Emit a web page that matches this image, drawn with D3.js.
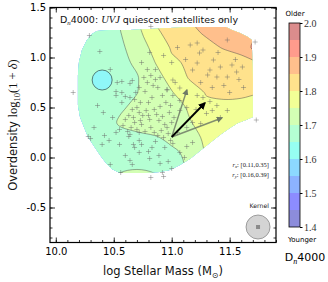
<!DOCTYPE html>
<html>
<head>
<meta charset="utf-8">
<script src="https://cdn.jsdelivr.net/npm/d3@7"></script>
<style>
body { margin: 0; background: #fff; }
svg { display: block; font-family: "DejaVu Sans", sans-serif; }
</style>
</head>
<body>
<script>
// Dn4000 map: rows from top (od 1.4) to bottom (od -0.25)
var gridMass = [10.1, 10.25, 10.4, 10.55, 10.7, 10.85, 11.0, 11.15, 11.3, 11.45, 11.6, 11.75, 11.9];
var gridOd = [1.4, 1.25, 1.1, 0.95, 0.8, 0.65, 0.5, 0.35, 0.2, 0.05, -0.1, -0.25];
var dn4000Grid = [
  [1.66, 1.67, 1.685, 1.705, 1.742, 1.805, 1.829, 1.851, 1.86, 1.87, 1.875, 1.88, 1.88],
  [1.66, 1.67, 1.683, 1.697, 1.734, 1.789, 1.818, 1.839, 1.856, 1.865, 1.87, 1.9, 1.91],
  [1.66, 1.668, 1.68, 1.69, 1.721, 1.764, 1.805, 1.821, 1.838, 1.853, 1.862, 1.93, 1.94],
  [1.66, 1.666, 1.677, 1.688, 1.707, 1.748, 1.792, 1.807, 1.817, 1.827, 1.838, 1.848, 1.855],
  [1.66, 1.665, 1.675, 1.685, 1.697, 1.729, 1.768, 1.803, 1.812, 1.82, 1.825, 1.83, 1.83],
  [1.66, 1.665, 1.675, 1.685, 1.699, 1.722, 1.747, 1.78, 1.803, 1.806, 1.805, 1.801, 1.80],
  [1.66, 1.668, 1.68, 1.695, 1.708, 1.723, 1.738, 1.753, 1.79, 1.793, 1.792, 1.79, 1.785],
  [1.665, 1.675, 1.68, 1.704, 1.713, 1.725, 1.737, 1.748, 1.76, 1.77, 1.775, 1.775, 1.775],
  [1.665, 1.67, 1.68, 1.688, 1.692, 1.696, 1.709, 1.738, 1.756, 1.765, 1.77, 1.77, 1.77],
  [1.665, 1.67, 1.675, 1.68, 1.685, 1.688, 1.693, 1.708, 1.755, 1.765, 1.77, 1.77, 1.77],
  [1.665, 1.67, 1.68, 1.694, 1.697, 1.694, 1.692, 1.703, 1.74, 1.76, 1.77, 1.77, 1.77],
  [1.665, 1.675, 1.69, 1.71, 1.72, 1.71, 1.695, 1.705, 1.73, 1.75, 1.76, 1.77, 1.77]
];

// outline of the region where the map is defined
var maskMass = [10.355, 10.467, 10.64, 10.812, 10.984, 11.2, 11.467, 11.519, 11.588, 11.657, 11.691, 11.7, 11.7,
  11.64, 11.571, 11.502, 11.416, 11.329, 11.243, 11.157, 11.071, 10.984, 10.898, 10.769, 10.553, 10.484, 10.433,
  10.381, 10.329, 10.278, 10.243, 10.209, 10.191, 10.191, 10.191, 10.2, 10.226, 10.269, 10.312];
var maskOd = [1.265, 1.275, 1.275, 1.285, 1.295, 1.305, 1.305, 1.275, 1.245, 1.205, 1.175, 0.775, 0.405,
  0.375, 0.345, 0.295, 0.225, 0.145, 0.065, -0.015, -0.075, -0.125, -0.145, -0.155, -0.155, -0.115, -0.055,
  0.025, 0.115, 0.205, 0.305, 0.405, 0.525, 0.675, 0.825, 0.955, 1.075, 1.175, 1.235];

// galaxies
var galMass = [10.29, 10.38, 10.15, 10.53, 10.57, 10.52, 10.52, 10.57, 10.64, 10.66, 10.36, 10.41, 10.49, 10.57, 10.60,
  10.73, 10.77, 10.79, 10.81, 10.74, 10.86, 10.81, 10.90, 10.68, 10.28, 10.63, 10.47, 10.33, 10.42,
  10.64, 10.68, 10.70, 10.72, 10.75, 10.78, 10.80, 10.83, 10.85, 10.87, 10.89, 10.92, 10.94, 10.96, 10.98, 10.95,
  10.92, 10.88, 10.84, 10.79, 10.76, 10.72, 10.69, 10.66, 10.63, 10.60, 10.65, 10.70, 10.74, 10.77, 10.82, 10.85,
  10.88, 10.91, 10.93, 10.97, 11.00, 11.02, 10.99, 11.01, 10.96, 10.90, 10.86, 10.82, 10.80, 10.73, 10.67, 10.58,
  10.62, 10.55,
  10.30, 10.40, 10.46, 10.52, 10.55, 10.67, 10.72, 10.74, 10.68, 10.60, 10.64, 10.66, 10.72, 10.80, 10.83, 10.86,
  10.47, 10.56, 10.82, 10.93, 10.72, 10.64,
  10.94, 11.01, 11.07, 11.13, 11.11, 10.92, 11.00, 11.18, 10.99, 11.05, 10.89, 10.90, 10.81, 10.97,
  11.07, 11.13, 11.03, 11.07, 11.18, 11.25, 11.30, 11.21, 11.13, 11.35, 11.42, 11.33, 11.39, 11.27, 11.22, 11.48,
  11.22, 11.24, 11.16, 11.27, 11.36, 11.33, 11.31, 11.18, 11.48, 11.52, 11.56, 11.61, 11.48, 11.22, 11.39, 11.42,
  11.01, 11.07, 10.96, 11.44, 11.72, 11.73, 11.05, 11.12, 11.00, 10.93, 11.40, 11.55, 11.45, 11.58, 11.62, 11.50,
  11.35, 11.25, 10.82];
var galOd = [1.22, 1.06, 0.65, 0.75, 0.76, 0.66, 0.62, 0.65, 0.74, 0.77, 0.52, 0.45, 0.40, 0.55, 0.61,
  0.55, 0.66, 0.88, 1.05, 0.95, 0.78, 0.38, 0.51, 0.35, 0.21, 0.21, 0.88, 0.30, 0.22,
  0.60, 0.58, 0.50, 0.45, 0.42, 0.47, 0.55, 0.60, 0.48, 0.43, 0.37, 0.41, 0.33, 0.30, 0.45, 0.55,
  0.62, 0.70, 0.72, 0.75, 0.80, 0.70, 0.65, 0.48, 0.42, 0.38, 0.30, 0.28, 0.33, 0.26, 0.30, 0.25,
  0.22, 0.27, 0.20, 0.24, 0.35, 0.40, 0.52, 0.62, 0.68, 0.80, 0.88, 0.82, 0.42, 0.37, 0.40, 0.32,
  0.26, 0.28,
  0.19, 0.13, 0.17, 0.25, 0.13, 0.13, 0.17, 0.13, 0.10, 0.02, -0.03, -0.07, 0.05, 0.06, 0.10, 0.16,
  -0.07, -0.15, -0.20, -0.19, 0.25, 0.23,
  0.10, 0.14, 0.05, 0.11, 0.00, -0.15, -0.11, 0.15, 0.17, 0.25, 0.02, -0.06, -0.01, -0.04,
  0.57, 0.50, 0.75, 0.47, 0.35, 0.34, 0.44, 0.48, 0.30, 0.47, 0.40, 0.56, 0.52, 0.60, 0.62, 0.47,
  1.145, 1.045, 1.125, 1.075, 0.975, 0.875, 0.825, 0.875, 0.805, 0.925, 0.855, 0.905, 1.175, 0.945, 0.805, 0.905,
  0.775, 0.695, 0.675, 1.375, 1.155, 0.375, 1.10, 0.98, 0.95, 1.02, 1.05, 0.98, 0.72, 0.78, 0.70, 0.65,
  0.70, 0.75, 1.31];

// correlation arrows: start point and end points
var arrowStart = [11.0, 0.205];
var arrowEnds = [[11.131, 0.675], [11.433, 0.395], [11.286, 0.545]];
var arrowKind = ["grey", "grey", "black"];

var coldSpot = [10.40, 0.775];
var kernelPos = [11.745, -0.695];

var cbLevels = [1.4, 1.45, 1.5, 1.55, 1.6, 1.65, 1.7, 1.75, 1.8, 1.85, 1.9, 1.95, 2.0];
var cbTicks = [1.4, 1.5, 1.6, 1.7, 1.8, 1.9, 2.0];
var xMajor = [10.0, 10.5, 11.0, 11.5];
var yMajor = [-0.5, 0.0, 0.5, 1.0, 1.5];
var xMinor = d3.range(100, 120).map(function (d) { return d / 10; });
var yMinor = d3.range(-8, 16).map(function (d) { return d / 10; });

var width = 328, height = 282;
var x = d3.scaleLinear().domain([9.95, 11.9]).range([50, 276]);
var y = d3.scaleLinear().domain([-0.85, 1.5]).range([242.5, 7.5]);
var cb = d3.scaleLinear().domain([1.4, 2.0]).range([227, 23]);

// jet colour map, drawn half transparent on white
var jetR = [[0, 0], [0.35, 0], [0.66, 1], [0.89, 1], [1, 0.5]];
var jetG = [[0, 0], [0.125, 0], [0.375, 1], [0.64, 1], [0.91, 0], [1, 0]];
var jetB = [[0, 0.5], [0.11, 1], [0.34, 1], [0.65, 0], [1, 0]];
function channel(t, pts) {
  for (var i = 1; i < pts.length; i++) {
    if (t <= pts[i][0]) {
      var a = pts[i - 1], b = pts[i];
      return a[1] + (b[1] - a[1]) * (t - a[0]) / (b[0] - a[0]);
    }
  }
  return pts[pts.length - 1][1];
}
function bandColor(v) {
  var t = (v - 1.4) / 0.6, al = 0.45;
  return d3.rgb(255 * (1 - al + al * channel(t, jetR)),
                255 * (1 - al + al * channel(t, jetG)),
                255 * (1 - al + al * channel(t, jetB))).formatHex();
}

var svg = d3.select("body").append("svg")
  .attr("width", width)
  .attr("height", height);

svg.append("clipPath").attr("id", "mask")
  .append("path")
  .attr("d", d3.line().curve(d3.curveLinearClosed)(maskMass.map(function (m, i) { return [x(m), y(maskOd[i])]; })));

// filled contours
var nx = gridMass.length, ny = gridOd.length;
var values = [];
dn4000Grid.forEach(function (row) { row.forEach(function (v) { values.push(v); }); });
var gx = d3.scaleLinear().domain([0.5, nx - 0.5]).range([x(gridMass[0]), x(gridMass[nx - 1])]);
var gy = d3.scaleLinear().domain([0.5, ny - 0.5]).range([y(gridOd[0]), y(gridOd[ny - 1])]);
var contours = d3.contours().size([nx, ny]).thresholds(cbLevels.slice(0, -1))(values);
var ring = d3.line()
  .x(function (p) { return gx(p[0]); })
  .y(function (p) { return gy(p[1]); })
  .curve(d3.curveCatmullRomClosed.alpha(0.5));
function shape(g) {
  return g.coordinates.map(function (poly) {
    return poly.map(function (r) { return ring(r.slice(0, -1)); }).join("");
  }).join("");
}

var map = svg.append("g").attr("clip-path", "url(#mask)");
map.selectAll("path.fill")
  .data(contours.filter(function (c) { return c.coordinates.length; }))
  .enter().append("path")
  .attr("class", "fill")
  .attr("d", shape)
  .attr("fill", function (c) { return bandColor(c.value + 0.025); });
map.selectAll("path.line")
  .data(contours.filter(function (c) { return c.coordinates.length && c.value > 1.65; }))
  .enter().append("path")
  .attr("class", "line")
  .attr("d", shape)
  .attr("fill", "none")
  .attr("stroke", "#4a4a4a")
  .attr("stroke-opacity", 0.8)
  .attr("stroke-width", 0.6);

// galaxies as plus signs
svg.append("g").selectAll("path")
  .data(galMass.map(function (m, i) { return [m, galOd[i]]; }))
  .enter().append("path")
  .attr("d", function (d) {
    var px = x(d[0]), py = y(d[1]);
    return "M" + (px - 2.5) + "," + py + "H" + (px + 2.5) + "M" + px + "," + (py - 2.5) + "V" + (py + 2.5);
  })
  .attr("stroke", "#666")
  .attr("stroke-opacity", 0.55)
  .attr("stroke-width", 0.8);

svg.append("circle")
  .attr("cx", x(coldSpot[0])).attr("cy", y(coldSpot[1])).attr("r", 10)
  .attr("fill", bandColor(1.615)).attr("stroke", "#3f6060").attr("stroke-width", 0.8);

// arrows
var defs = svg.append("defs");
[["black", "#000"], ["grey", "#6f7a66"]].forEach(function (k) {
  defs.append("marker")
    .attr("id", "head-" + k[0])
    .attr("viewBox", "0 0 10 10")
    .attr("refX", 8).attr("refY", 5)
    .attr("markerWidth", k[0] === "black" ? 4.2 : 4.5)
    .attr("markerHeight", k[0] === "black" ? 4.2 : 4.5)
    .attr("markerUnits", "strokeWidth")
    .attr("orient", "auto")
    .append("path").attr("d", "M0,0L10,5L0,10z").attr("fill", k[1]);
});
svg.append("g").selectAll("line")
  .data(arrowEnds)
  .enter().append("line")
  .attr("x1", x(arrowStart[0])).attr("y1", y(arrowStart[1]))
  .attr("x2", function (d) { return x(d[0]); })
  .attr("y2", function (d) { return y(d[1]); })
  .attr("stroke", function (d, i) { return arrowKind[i] === "black" ? "#000" : "#6f7a66"; })
  .attr("stroke-opacity", function (d, i) { return arrowKind[i] === "black" ? 1 : 0.85; })
  .attr("stroke-width", function (d, i) { return arrowKind[i] === "black" ? 1.8 : 1.4; })
  .attr("marker-end", function (d, i) { return "url(#head-" + arrowKind[i] + ")"; });

// correlation ranges
var rng = svg.append("g").attr("font-family", "Liberation Serif, serif").attr("font-size", 6.5)
  .attr("text-anchor", "end").attr("fill", "#222");
var t1 = rng.append("text").attr("x", 269).attr("y", 167);
t1.append("tspan").attr("font-style", "italic").text("r");
t1.append("tspan").attr("font-size", 4.8).attr("dy", 1.2).attr("font-style", "italic").text("x");
t1.append("tspan").attr("dy", -1.2).text(": [0.11,0.35]");
var t2 = rng.append("text").attr("x", 269).attr("y", 177);
t2.append("tspan").attr("font-style", "italic").text("r");
t2.append("tspan").attr("font-size", 4.8).attr("dy", 1.2).attr("font-style", "italic").text("y");
t2.append("tspan").attr("dy", -1.2).text(": [0.16,0.39]");

// kernel
svg.append("text").attr("x", 269).attr("y", 208).attr("text-anchor", "end")
  .attr("font-size", 6.2).attr("fill", "#222").text("Kernel");
svg.append("circle").attr("cx", x(kernelPos[0])).attr("cy", y(kernelPos[1])).attr("r", 12)
  .attr("fill", "#d4d4d4").attr("stroke", "#8a8a8a").attr("stroke-width", 0.8);
svg.append("rect").attr("x", x(kernelPos[0]) - 2).attr("y", y(kernelPos[1]) - 2)
  .attr("width", 4).attr("height", 4).attr("fill", "#8a8a8a");

// axes, ticks on all four sides pointing in
function noDomain(g) { g.select(".domain").remove(); g.selectAll("line").attr("stroke-width", 0.8); }
svg.append("g").attr("transform", "translate(0,242.5)")
  .call(d3.axisBottom(x).tickValues(xMajor).tickSize(-5).tickPadding(5).tickFormat(d3.format(".1f")))
  .call(noDomain)
  .selectAll("text").attr("font-size", 10).attr("font-family", "DejaVu Sans, sans-serif");
svg.append("g").attr("transform", "translate(0,242.5)")
  .call(d3.axisBottom(x).tickValues(xMinor).tickSize(-2.5).tickFormat("")).call(noDomain);
svg.append("g").attr("transform", "translate(0,7.5)")
  .call(d3.axisTop(x).tickValues(xMajor).tickSize(-5).tickFormat("")).call(noDomain);
svg.append("g").attr("transform", "translate(0,7.5)")
  .call(d3.axisTop(x).tickValues(xMinor).tickSize(-2.5).tickFormat("")).call(noDomain);
svg.append("g").attr("transform", "translate(50,0)")
  .call(d3.axisLeft(y).tickValues(yMajor).tickSize(-5).tickPadding(4)
    .tickFormat(function (d) { return d.toFixed(1); }))
  .call(noDomain)
  .selectAll("text").attr("font-size", 10).attr("font-family", "DejaVu Sans, sans-serif");
svg.append("g").attr("transform", "translate(50,0)")
  .call(d3.axisLeft(y).tickValues(yMinor).tickSize(-2.5).tickFormat("")).call(noDomain);
svg.append("g").attr("transform", "translate(276,0)")
  .call(d3.axisRight(y).tickValues(yMajor).tickSize(-5).tickFormat("")).call(noDomain);
svg.append("g").attr("transform", "translate(276,0)")
  .call(d3.axisRight(y).tickValues(yMinor).tickSize(-2.5).tickFormat("")).call(noDomain);
svg.append("rect").attr("x", 50).attr("y", 7.5).attr("width", 226).attr("height", 235)
  .attr("fill", "none").attr("stroke", "#000").attr("stroke-width", 1.2);

// title
var title = svg.append("text").attr("x", 60).attr("y", 23).attr("font-size", 9.5).attr("fill", "#111");
title.append("tspan").text("D");
title.append("tspan").attr("font-size", 6.8).attr("dy", 2).attr("font-style", "italic")
  .attr("font-family", "Liberation Serif, serif").text("n");
title.append("tspan").attr("dy", -2).text("4000: ");
title.append("tspan").attr("font-family", "Liberation Serif, serif").attr("font-style", "italic")
  .attr("font-size", 10.5).text("UVJ");
title.append("tspan").text(" quiescent satellites only");

// axis labels
var xl = svg.append("text").attr("x", 163).attr("y", 275).attr("text-anchor", "middle")
  .attr("font-size", 11.5).attr("fill", "#111");
xl.append("tspan").text("log Stellar Mass (M");
xl.append("tspan").attr("font-size", 8).attr("dy", 2.5).text("\u2299");
xl.append("tspan").attr("dy", -2.5).text(")");

var yl = svg.append("text").attr("transform", "translate(17,125) rotate(-90)")
  .attr("text-anchor", "middle").attr("font-size", 11.5).attr("fill", "#111");
yl.append("tspan").text("Overdensity ");
yl.append("tspan").attr("font-family", "Liberation Serif, serif").attr("font-size", 12.5).text("log");
yl.append("tspan").attr("font-family", "Liberation Serif, serif").attr("font-size", 8.5).attr("dy", 2.5).text("10");
yl.append("tspan").attr("font-family", "Liberation Serif, serif").attr("font-size", 12.5).attr("dy", -2.5).text("(1 + ");
yl.append("tspan").attr("font-family", "Liberation Serif, serif").attr("font-size", 12.5).attr("font-style", "italic").text("\u03b4");
yl.append("tspan").attr("font-family", "Liberation Serif, serif").attr("font-size", 12.5).text(")");

// colour bar
var bar = svg.append("g");
bar.selectAll("rect")
  .data(cbLevels.slice(0, -1))
  .enter().append("rect")
  .attr("x", 289).attr("width", 11)
  .attr("y", function (d) { return cb(d + 0.05); })
  .attr("height", function (d) { return cb(d) - cb(d + 0.05); })
  .attr("fill", function (d) { return bandColor(d + 0.025); });
bar.append("rect").attr("x", 289).attr("y", cb(2.0)).attr("width", 11).attr("height", cb(1.4) - cb(2.0))
  .attr("fill", "none").attr("stroke", "#000").attr("stroke-width", 0.8);
bar.append("g").attr("transform", "translate(300,0)")
  .call(d3.axisRight(cb).tickValues(cbTicks).tickSize(2.5).tickPadding(1.5).tickFormat(d3.format(".1f")))
  .call(function (g) { g.select(".domain").remove(); })
  .selectAll("text").attr("font-size", 10).attr("font-family", "Liberation Serif, serif").attr("fill", "#333");
svg.append("text").attr("x", 295).attr("y", 16).attr("text-anchor", "middle").attr("font-size", 7).text("Older");
svg.append("text").attr("x", 302).attr("y", 242).attr("text-anchor", "middle").attr("font-size", 7).text("Younger");
var cbl = svg.append("text").attr("x", 305).attr("y", 261).attr("text-anchor", "middle").attr("font-size", 11);
cbl.append("tspan").text("D");
cbl.append("tspan").attr("font-size", 8).attr("dy", 2.5).attr("font-style", "italic")
  .attr("font-family", "Liberation Serif, serif").text("n");
cbl.append("tspan").attr("dy", -2.5).text("4000");
</script>
</body>
</html>
